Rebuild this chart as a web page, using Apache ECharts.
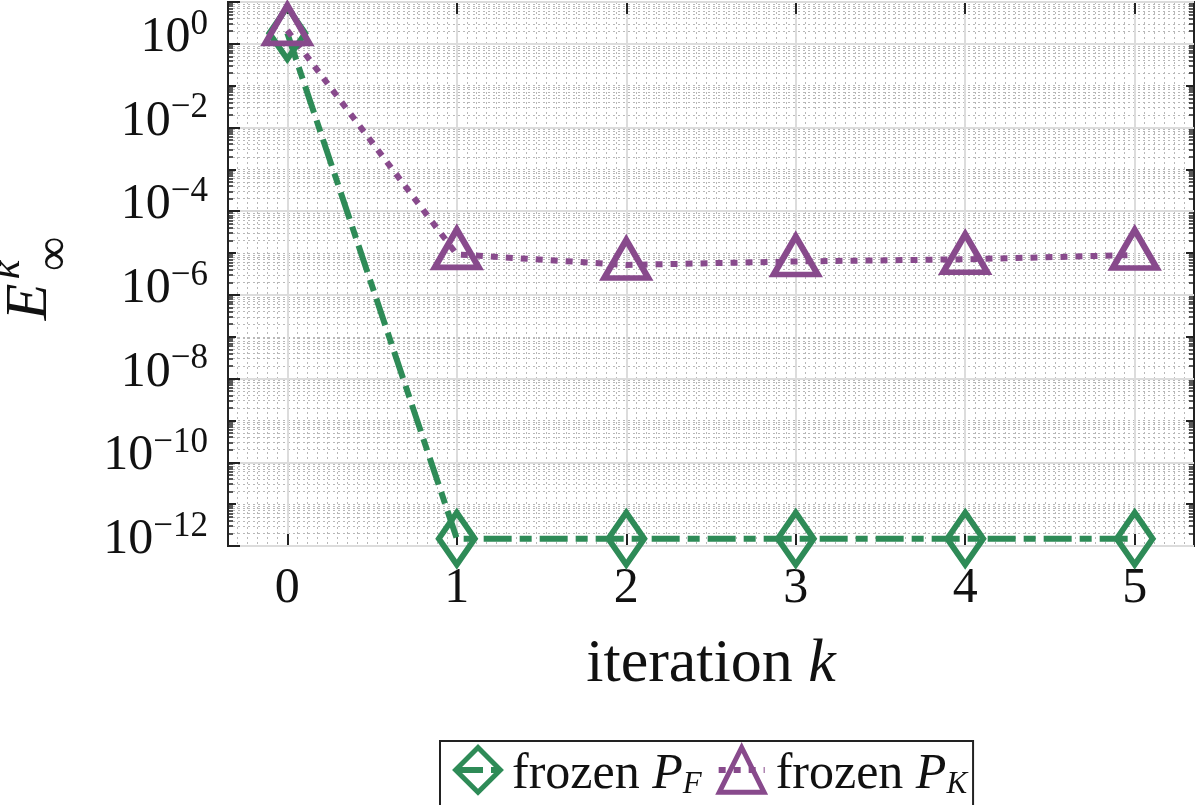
<!DOCTYPE html>
<html>
<head>
  <meta charset="utf-8">
  <title>frozen iteration error</title>
  <script src="https://cdn.jsdelivr.net/npm/echarts@6/dist/echarts.min.js"></script>
  <style>
    body { margin: 0; padding: 0; background: #fff; }
    #main { width: 1197px; height: 805px; }
  </style>
</head>
<body>
<div id="main"></div>
<script>
// iteration index k
const iterations = [0, 1, 2, 3, 4, 5];
// E_inf^k
const frozenPF = [1.8, 1.5e-12, 1.5e-12, 1.5e-12, 1.5e-12, 1.5e-12];
const frozenPK = [2.1, 9.3e-6, 5.2e-6, 6.3e-6, 7.1e-6, 9.0e-6];
const seriesNames = ['frozen P_F', 'frozen P_K'];

const GREEN = '#2e8b57';
const PURPLE = '#884a8c';
const SERIF = 'Liberation Serif';
const INK = '#111';

const toPairs = (vals) => iterations.map((k, i) => [k, vals[i]]);

const yLabel = (v) => {
  const e = Math.round(Math.log10(v));
  if (e > 0 || e % 2 !== 0) return '';
  return '{b|10}{s|' + (e === 0 ? '0' : '\u2212' + (-e)) + '}';
};

const xCommon = { type: 'value', min: -0.35, max: 5.35, splitNumber: 6 };
const yCommon = { type: 'log', logBase: 10, min: 1e-12, max: 10 };
const dotted = { color: '#b8b8b8', width: 1, type: [2, 3] };
const tickStyle = { color: '#222', width: 2 };

const chart = echarts.init(document.getElementById('main'));
chart.setOption({
  animation: false,
  grid: {
    left: 228, right: 2, top: 2, bottom: 259,
    show: true, borderColor: '#222', borderWidth: 2, backgroundColor: '#fff'
  },
  legend: {
    data: seriesNames,
    left: 440, top: 741,
    itemWidth: 46, itemHeight: 56, itemGap: 14,
    padding: [4, 6, 30, 12],
    borderColor: '#222', borderWidth: 2, borderRadius: 0,
    backgroundColor: '#fff',
    itemStyle: { borderWidth: 5 },
    lineStyle: { width: 6 },
    formatter: (name) => '{t|frozen }{i|P}{s|' + name.slice(-1) + '}',
    textStyle: {
      rich: {
        t: { fontFamily: SERIF, fontSize: 50, color: INK, lineHeight: 60, verticalAlign: 'bottom', padding: [0, 0, 0, 6] },
        i: { fontFamily: SERIF, fontStyle: 'italic', fontSize: 50, color: INK, lineHeight: 60, verticalAlign: 'bottom' },
        s: { fontFamily: SERIF, fontStyle: 'italic', fontSize: 31, color: INK, lineHeight: 31, verticalAlign: 'bottom' }
      }
    }
  },
  xAxis: [
    Object.assign({}, xCommon, {
      position: 'bottom',
      name: '{a|iteration }{k|k}',
      nameLocation: 'middle',
      nameGap: 88,
      nameTextStyle: {
        rich: {
          a: { fontFamily: SERIF, fontSize: 62, color: INK },
          k: { fontFamily: SERIF, fontStyle: 'italic', fontSize: 62, color: INK }
        }
      },
      axisLine: { onZero: false, lineStyle: { color: '#222', width: 2 } },
      axisTick: { inside: true, length: 12, lineStyle: tickStyle },
      axisLabel: {
        fontFamily: SERIF, fontSize: 50, color: INK, margin: 18,
        formatter: (v) => (Number.isInteger(v) ? String(v) : '')
      },
      splitLine: { show: true, lineStyle: { color: '#dcdcdc', width: 2 } },
      minorTick: { show: false, splitNumber: 17 },
      minorSplitLine: { show: true, lineStyle: dotted }
    }),
    Object.assign({}, xCommon, {
      position: 'top',
      axisLine: { onZero: false, lineStyle: { color: '#222', width: 2 } },
      axisTick: { inside: true, length: 12, lineStyle: tickStyle },
      axisLabel: { show: false },
      splitLine: { show: false }
    })
  ],
  yAxis: [
    // labelled axis: ticks, labels and solid grid every two decades
    Object.assign({}, yCommon, {
      position: 'left',
      interval: 2,
      axisLine: { show: true, onZero: false, lineStyle: { color: '#222', width: 2 } },
      axisTick: { show: true, inside: true, length: 12, lineStyle: tickStyle },
      axisLabel: {
        margin: 20,
        padding: [0, 0, 18, 0],
        formatter: yLabel,
        rich: {
          b: { fontFamily: SERIF, fontSize: 50, color: INK, lineHeight: 56, verticalAlign: 'bottom' },
          s: { fontFamily: SERIF, fontSize: 35, color: INK, lineHeight: 35, verticalAlign: 'top' }
        }
      },
      splitLine: { show: true, lineStyle: { color: '#dcdcdc', width: 2 } },
      z: 3
    }),
    // helper on the left: every decade with 2..9 minor ticks and dotted grid
    Object.assign({}, yCommon, {
      position: 'left',
      interval: 1,
      axisLine: { show: false, onZero: false },
      axisTick: { show: true, inside: true, length: 8, lineStyle: tickStyle },
      minorTick: { show: true, splitNumber: 9, length: 5, lineStyle: { color: '#222', width: 1.5 } },
      axisLabel: { show: false },
      splitLine: { show: true, lineStyle: dotted },
      minorSplitLine: { show: true, lineStyle: dotted }
    }),
    // mirror on the right
    Object.assign({}, yCommon, {
      position: 'right',
      interval: 1,
      axisLine: { show: true, onZero: false, lineStyle: { color: '#222', width: 2 } },
      axisTick: { show: true, inside: true, length: 8, lineStyle: tickStyle },
      minorTick: { show: true, splitNumber: 9, length: 5, lineStyle: { color: '#222', width: 1.5 } },
      axisLabel: { show: false },
      splitLine: { show: false }
    })
  ],
  graphic: [
    { type: 'text', x: 30, y: 302, rotation: Math.PI / 2,
      style: { text: 'E', font: 'italic 60px "Liberation Serif"', fill: INK, align: 'center', verticalAlign: 'middle' } },
    { type: 'text', x: 8, y: 270, rotation: Math.PI / 2,
      style: { text: 'k', font: 'italic 42px "Liberation Serif"', fill: INK, align: 'center', verticalAlign: 'middle' } },
    { type: 'text', x: 55, y: 254, rotation: Math.PI / 2,
      style: { text: '\u221e', font: '48px "Liberation Serif"', fill: INK, align: 'center', verticalAlign: 'middle' } }
  ],
  series: [
    {
      name: seriesNames[0],
      type: 'line',
      xAxisIndex: 0, yAxisIndex: 0,
      data: toPairs(frozenPF),
      clip: false,
      symbol: 'diamond',
      symbolSize: [36, 52],
      itemStyle: { color: 'rgba(255,255,255,0)', borderColor: GREEN, borderWidth: 6 },
      lineStyle: { color: GREEN, width: 6, type: [28, 8, 12, 8] },
      emphasis: { disabled: true }
    },
    {
      name: seriesNames[1],
      type: 'line',
      xAxisIndex: 0, yAxisIndex: 0,
      data: toPairs(frozenPK),
      clip: false,
      symbol: 'triangle',
      symbolSize: [44, 38],
      symbolOffset: [0, -6],
      itemStyle: { color: 'rgba(255,255,255,0)', borderColor: PURPLE, borderWidth: 6 },
      lineStyle: { color: PURPLE, width: 6, type: [7, 8] },
      emphasis: { disabled: true }
    }
  ]
});
</script>
</body>
</html>
